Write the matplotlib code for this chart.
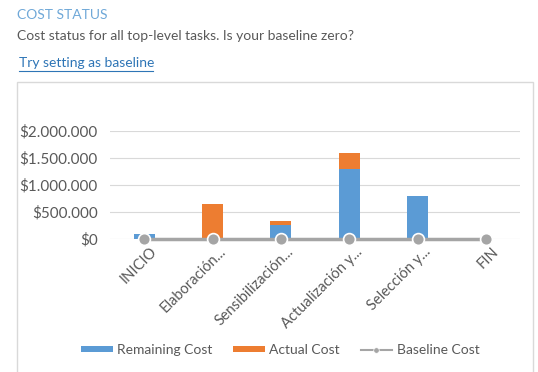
import matplotlib.pyplot as plt
from matplotlib.patches import Patch, Rectangle
from matplotlib.lines import Line2D
from matplotlib.ticker import FuncFormatter
from matplotlib.transforms import ScaledTranslation

plt.rcParams['font.family'] = ['Lato', 'DejaVu Sans']

categories = ["INICIO", "Elaboración...", "Sensibilización...",
              "Actualización y...", "Selección y...", "FIN"]
remaining = [90000, 0, 260000, 1300000, 800000, 0]
actual = [0, 640000, 75000, 300000, 0, 0]
baseline = [0, 0, 0, 0, 0, 0]

blue = "#5B9BD5"
orange = "#ED7D31"
grey = "#A5A5A5"
txt = "#595959"

W, H = 538, 372
fig = plt.figure(figsize=(W / 100, H / 100), dpi=100)

# header texts
fig.text(17 / W, 1 - 15 / H, "COST STATUS", color="#6FA8D8", fontsize=10,
         va="center", ha="left")
fig.text(17 / W, 1 - 36 / H, "Cost status for all top-level tasks. Is your baseline zero?",
         color="#595959", fontsize=10, va="center", ha="left")
fig.text(19 / W, 1 - 63 / H, "Try setting as baseline", color="#2E75B6",
         fontsize=10, va="center", ha="left")
fig.add_artist(Line2D([19 / W, 153 / W], [1 - 71 / H, 1 - 71 / H],
                      color="#2E75B6", lw=0.8))

# chart frame
fig.add_artist(Rectangle((17 / W, -0.05), (533 - 17) / W, 1 - 82 / H + 0.05,
                         transform=fig.transFigure, fill=False,
                         edgecolor="#D9D9D9", lw=1))

ax = fig.add_axes([110 / W, (H - 239) / H, (520 - 110) / W, (239 - 131) / H])
x = range(len(categories))
ax.bar(x, remaining, width=0.31, color=blue, zorder=2)
ax.bar(x, actual, width=0.31, bottom=remaining, color=orange, zorder=2)
ax.plot(x, baseline, color=grey, lw=2.5, marker="o", markersize=8.5,
        markeredgecolor="white", markeredgewidth=1.2, zorder=3, clip_on=False)

ax.set_xlim(-0.5, len(categories) - 0.5)
ax.set_ylim(0, 2000000)
ax.set_yticks([0, 500000, 1000000, 1500000, 2000000])
ax.yaxis.set_major_formatter(FuncFormatter(lambda v, p: "$" + f"{int(v):,}".replace(",", ".")))
ax.grid(axis="y", color="#D9D9D9", lw=0.8, zorder=0)
ax.set_axisbelow(True)
for s in ax.spines.values():
    s.set_visible(False)
ax.tick_params(axis="both", length=0, colors=txt)
ax.tick_params(axis="y", pad=9, labelsize=11)
ax.set_xticks(list(x))
ax.set_xticklabels(categories, rotation=45, ha="right", va="top",
                   rotation_mode="anchor", fontsize=10.5)
ax.tick_params(axis="x", pad=4)
shift = ScaledTranslation(6 / 100, 0, fig.dpi_scale_trans)
for lbl in ax.get_xticklabels():
    lbl.set_transform(lbl.get_transform() + shift)

handles = [
    Patch(facecolor=blue),
    Patch(facecolor=orange),
    Line2D([0], [0], color=grey, lw=1.5, marker="o", markersize=4,
           markeredgecolor="white", markeredgewidth=0.5),
]
fig.legend(handles, ["Remaining Cost", "Actual Cost", "Baseline Cost"],
           loc="center", bbox_to_anchor=(280 / W, 1 - 350 / H), ncol=3,
           frameon=False, fontsize=10, handlelength=2.3, handleheight=0.35,
           handletextpad=0.3, columnspacing=1.5, labelcolor=txt)

fig.savefig("out.png", dpi=100)
